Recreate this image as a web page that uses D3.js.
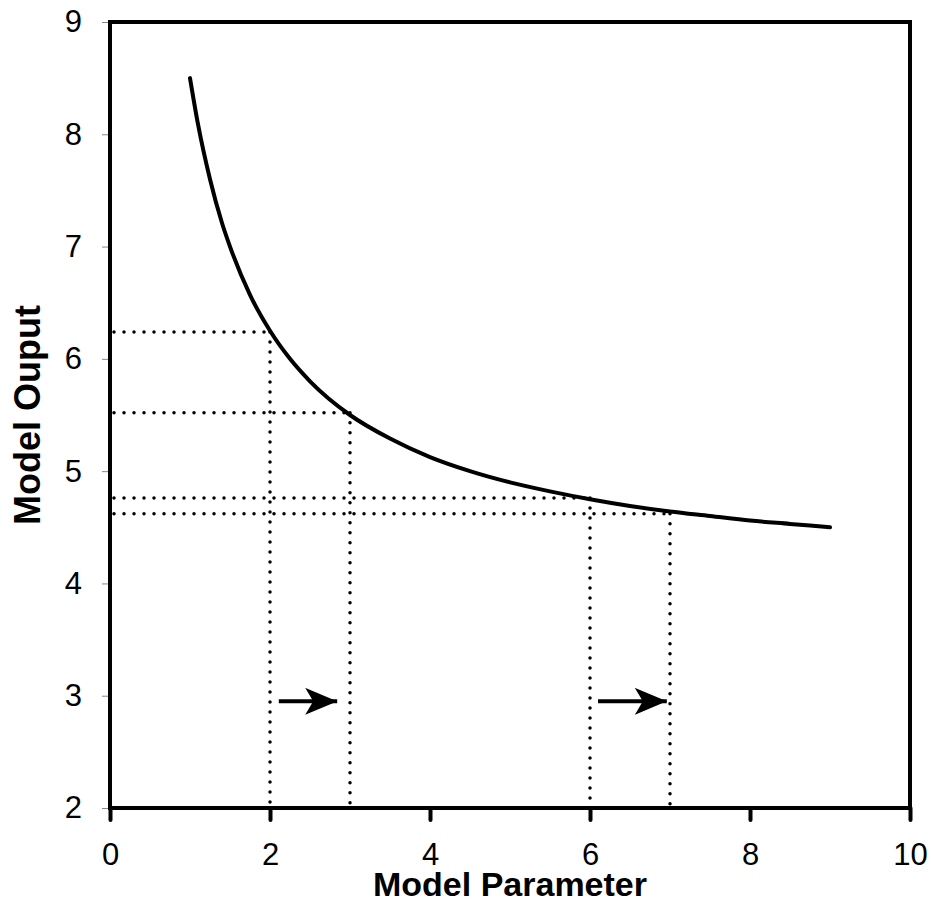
<!DOCTYPE html>
<html>
<head>
<meta charset="utf-8">
<script src="https://cdn.jsdelivr.net/npm/d3@7"></script>
<style>
  body { margin: 0; background: #fff; }
  text { font-family: "Liberation Sans", Arial, sans-serif; }
</style>
</head>
<body>
<div id="chart"></div>
<script>
// curve points
var curveX = [1, 1.1, 1.25, 1.4, 1.5, 1.75, 2, 2.25, 2.5, 3, 3.5, 4, 4.5, 5, 5.5, 6, 6.5, 7, 7.5, 8, 8.5, 9]
var curveY = [8.5, 8.09, 7.6, 7.21, 7.0, 6.57, 6.25, 6.0, 5.8, 5.5, 5.29, 5.125, 5.0, 4.9, 4.82, 4.75, 4.69, 4.64, 4.6, 4.56, 4.53, 4.5]

// dotted guides: parameter value and the output it gives
var guideX = [2, 3, 6, 7]
var guideY = [6.24, 5.52, 4.76, 4.62]

// arrows (from, to) at one y level
var arrowFrom = [2.11, 6.1]
var arrowTo = [2.84, 6.96]
var arrowY = 2.95

var xTicks = [0, 2, 4, 6, 8, 10]
var yTicks = [2, 3, 4, 5, 6, 7, 8, 9]

var margin = {top: 22, right: 21, bottom: 97, left: 110},
    width = 931 - margin.left - margin.right,
    height = 905 - margin.top - margin.bottom

var svg = d3.select("#chart")
  .append("svg")
    .attr("width", 931)
    .attr("height", 905)
  .append("g")
    .attr("transform", "translate(" + margin.left + "," + margin.top + ")")

var x = d3.scaleLinear().domain([0, 10]).range([0, width])
var y = d3.scaleLinear().domain([2, 9]).range([height, 0])

// x axis ticks (thick, below the frame)
var xAxis = svg.append("g")
  .attr("transform", "translate(0," + height + ")")
  .call(d3.axisBottom(x).tickValues(xTicks).tickFormat(d3.format("d"))
    .tickSize(12).tickSizeOuter(0).tickPadding(23))
xAxis.select(".domain").remove()
xAxis.selectAll("line").attr("stroke", "#000").attr("stroke-width", 4).attr("stroke-linecap", "round")
xAxis.selectAll("text").style("font-size", "31px").attr("fill", "#000")

// y axis ticks (thin, left of frame)
var yAxis = svg.append("g")
  .call(d3.axisLeft(y).tickValues(yTicks).tickFormat(d3.format("d"))
    .tickSize(8).tickSizeOuter(0).tickPadding(20))
yAxis.select(".domain").remove()
yAxis.selectAll("line").attr("stroke", "#888").attr("stroke-width", 1)
yAxis.selectAll("text").style("font-size", "31px").attr("fill", "#000")

// dotted guides
var dots = svg.append("g")
  .attr("fill", "none")
  .attr("stroke", "#000")
  .attr("stroke-width", 3.5)
  .attr("stroke-linecap", "round")
  .attr("stroke-dasharray", "0 10")

guideX.forEach(function(gx, i) {
  dots.append("line")
    .attr("x1", x(0) + 4).attr("y1", y(guideY[i]))
    .attr("x2", x(gx)).attr("y2", y(guideY[i]))
  dots.append("line")
    .attr("x1", x(gx)).attr("y1", y(guideY[i]))
    .attr("x2", x(gx)).attr("y2", y(2) - 4)
})

// frame
svg.append("rect")
  .attr("x", 0).attr("y", 0)
  .attr("width", width).attr("height", height)
  .attr("fill", "none")
  .attr("stroke", "#000")
  .attr("stroke-width", 4)

// curve
var line = d3.line()
  .x(function(d) { return x(d[0]) })
  .y(function(d) { return y(d[1]) })
  .curve(d3.curveMonotoneX)

svg.append("path")
  .datum(curveX.map(function(v, i) { return [v, curveY[i]] }))
  .attr("d", line)
  .attr("fill", "none")
  .attr("stroke", "#000")
  .attr("stroke-width", 4)
  .attr("stroke-linecap", "round")

// arrows
svg.append("defs").append("marker")
  .attr("id", "head")
  .attr("viewBox", "0 0 32 27")
  .attr("refX", 32).attr("refY", 13.5)
  .attr("markerWidth", 32).attr("markerHeight", 27)
  .attr("markerUnits", "userSpaceOnUse")
  .attr("orient", "auto")
  .append("path")
    .attr("d", "M0,0 L32,13.5 L0,27 L8,13.5 Z")
    .attr("fill", "#000")

arrowFrom.forEach(function(a, i) {
  svg.append("line")
    .attr("x1", x(a)).attr("y1", y(arrowY))
    .attr("x2", x(arrowTo[i])).attr("y2", y(arrowY))
    .attr("stroke", "#000")
    .attr("stroke-width", 4)
    .attr("marker-end", "url(#head)")
})

// axis titles
svg.append("text")
  .attr("x", width / 2).attr("y", height + 88)
  .attr("text-anchor", "middle")
  .style("font-size", "34px").style("font-weight", "bold")
  .text("Model Parameter")

svg.append("text")
  .attr("transform", "translate(" + (-70) + "," + (height / 2) + ")rotate(-90)")
  .attr("text-anchor", "middle")
  .style("font-size", "36px").style("font-weight", "bold")
  .text("Model Ouput")
</script>
</body>
</html>
